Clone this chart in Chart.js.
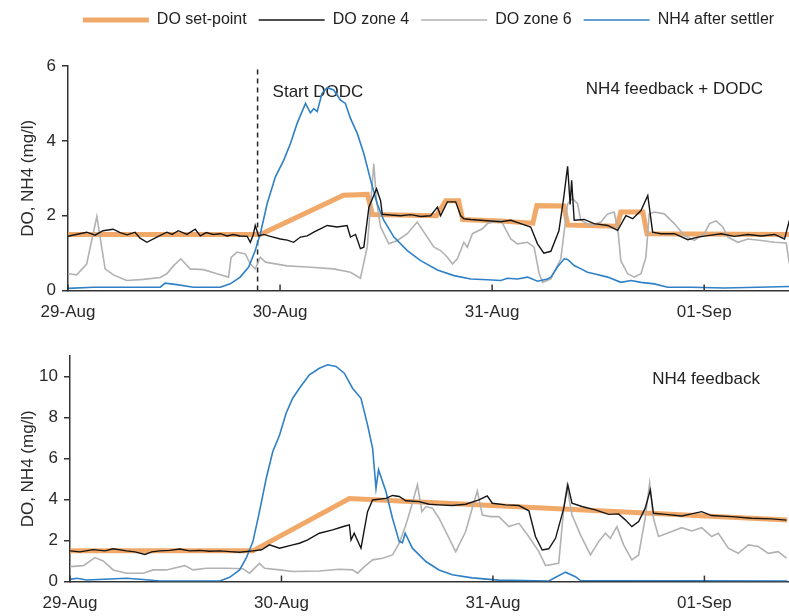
<!DOCTYPE html>
<html>
<head>
<meta charset="utf-8">
<script src="https://cdn.jsdelivr.net/npm/chart.js@4"></script>
<style>
    body { margin: 0; background: #fff; overflow: hidden; }
    #topBox { position: absolute; left: 0; top: 0; width: 789px; height: 335px; }
    #botBox { position: absolute; left: 0; top: 333px; width: 789px; height: 293px; }
</style>
</head>
<body>
<div id="topBox"><canvas id="chartTop"></canvas></div>
<div id="botBox"><canvas id="chartBot"></canvas></div>
<script>
// time in days from 29-Aug 00:00
const dayTicks = [0, 1, 2, 3];
const dayLabels = ['29-Aug', '30-Aug', '31-Aug', '01-Sep'];
const topYTicks = [0, 2, 4, 6];
const botYTicks = [0, 2, 4, 6, 8, 10];
const dodcStart = 0.894;

// --- top panel: NH4 feedback + DODC ---
const topSpT = [0, 0.907, 1.299, 1.412, 1.436, 1.738, 1.781, 1.842, 1.861, 2.041, 2.192, 2.211, 2.338, 2.357, 2.589, 2.607, 2.711, 2.730, 3.406];
const topSpV = [1.5, 1.5, 2.55, 2.57, 2.03, 2.0, 2.4, 2.4, 1.9, 1.86, 1.8, 2.27, 2.26, 1.75, 1.72, 2.1, 2.1, 1.52, 1.5];

const topZ4T = [0, 0.038, 0.088, 0.128, 0.165, 0.213, 0.246, 0.279, 0.316, 0.340, 0.372, 0.419, 0.466, 0.491, 0.520, 0.561, 0.600, 0.624, 0.652, 0.685,
    0.718, 0.750, 0.779, 0.812, 0.845, 0.860, 0.874, 0.883, 0.899, 0.923, 0.954, 1.001, 1.034, 1.064, 1.096, 1.128, 1.159, 1.190, 1.222, 1.269,
    1.316, 1.332, 1.356, 1.379, 1.395, 1.419, 1.455, 1.474, 1.482, 1.521, 1.568, 1.616, 1.663, 1.710, 1.742, 1.757, 1.789, 1.828, 1.852, 1.867,
    1.899, 1.946, 1.993, 2.041, 2.088, 2.135, 2.182, 2.214, 2.244, 2.277, 2.315, 2.338, 2.356, 2.368, 2.375, 2.387, 2.434, 2.481, 2.545, 2.592,
    2.631, 2.663, 2.702, 2.734, 2.757, 2.796, 2.859, 2.923, 2.970, 3.017, 3.080, 3.143, 3.206, 3.269, 3.332, 3.379, 3.402];
const topZ4V = [1.45, 1.5, 1.56, 1.48, 1.6, 1.64, 1.55, 1.49, 1.56, 1.4, 1.29, 1.43, 1.56, 1.5, 1.6, 1.5, 1.64, 1.46, 1.55, 1.5,
    1.52, 1.46, 1.5, 1.46, 1.45, 1.29, 1.5, 1.74, 1.46, 1.5, 1.45, 1.38, 1.35, 1.29, 1.43, 1.46, 1.56, 1.65, 1.74, 1.7,
    1.74, 1.43, 1.5, 1.12, 1.16, 2.23, 2.72, 2.4, 2.04, 2.02, 2.0, 2.03, 1.98, 2.0, 2.23, 2.0, 2.37, 2.37, 2.0, 1.92,
    1.9, 1.88, 1.86, 1.84, 1.88, 1.79, 1.7, 1.25, 1.0, 1.05, 1.6, 2.5, 3.32, 2.3, 2.95, 1.88, 1.9, 1.79, 1.74, 1.61,
    2.0, 1.92, 2.14, 2.54, 1.56, 1.52, 1.52, 1.36, 1.43, 1.47, 1.52, 1.45, 1.5, 1.46, 1.5, 1.38, 1.88];

const topZ6T = [0.001, 0.041, 0.088, 0.136, 0.159, 0.175, 0.214, 0.277, 0.356, 0.435, 0.466, 0.497, 0.532, 0.576, 0.639, 0.702, 0.757, 0.769, 0.797, 0.836,
    0.860, 0.883, 0.907, 0.931, 1.033, 1.128, 1.253, 1.332, 1.379, 1.411, 1.442, 1.455, 1.474, 1.513, 1.553, 1.600, 1.647, 1.694, 1.726, 1.757,
    1.789, 1.813, 1.836, 1.867, 1.883, 1.907, 1.954, 1.978, 2.041, 2.088, 2.119, 2.167, 2.198, 2.222, 2.238, 2.277, 2.324, 2.356, 2.379, 2.403,
    2.418, 2.466, 2.513, 2.545, 2.576, 2.595, 2.607, 2.639, 2.670, 2.702, 2.725, 2.741, 2.765, 2.812, 2.859, 2.907, 2.954, 3.001, 3.025, 3.056,
    3.088, 3.112, 3.159, 3.206, 3.269, 3.332, 3.387, 3.402];
const topZ6V = [0.45, 0.42, 0.71, 1.98, 1.16, 0.58, 0.42, 0.27, 0.30, 0.35, 0.45, 0.66, 0.85, 0.58, 0.56, 0.45, 0.36, 0.89, 1.03, 0.98,
    0.71, 0.58, 0.89, 0.76, 0.66, 0.63, 0.58, 0.49, 0.33, 1.16, 3.39, 2.4, 1.7, 1.25, 1.34, 1.52, 1.83, 1.43, 1.16, 1.07,
    0.89, 0.71, 0.85, 1.29, 1.16, 1.52, 1.65, 1.79, 1.88, 1.38, 1.25, 1.29, 1.16, 0.45, 0.22, 0.31, 0.85, 2.32, 2.46, 2.32,
    1.88, 1.74, 1.83, 2.05, 2.1, 1.52, 0.8, 0.45, 0.36, 0.45, 0.89, 2.05, 2.1, 2.05, 1.79, 1.47, 1.34, 1.52, 1.79, 1.86,
    1.7, 1.43, 1.29, 1.38, 1.34, 1.29, 1.27, 0.71];

const topNhT = [0, 0.120, 0.277, 0.435, 0.458, 0.513, 0.592, 0.718, 0.765, 0.812, 0.852, 0.883, 0.907, 0.939, 0.978, 1.017, 1.049, 1.080, 1.120, 1.143,
    1.159, 1.175, 1.198, 1.222, 1.253, 1.285, 1.308, 1.332, 1.364, 1.395, 1.427, 1.458, 1.489, 1.537, 1.600, 1.663, 1.742, 1.820, 1.899, 1.978,
    2.041, 2.072, 2.119, 2.167, 2.214, 2.261, 2.277, 2.308, 2.340, 2.356, 2.387, 2.419, 2.450, 2.481, 2.545, 2.607, 2.655, 2.702, 2.765, 2.828,
    2.938, 3.095, 3.253, 3.402];
const topNhV = [0.06, 0.09, 0.09, 0.09, 0.2, 0.16, 0.09, 0.09, 0.18, 0.36, 0.63, 1.07, 1.52, 2.32, 3.04, 3.48, 3.93, 4.46, 5.0, 4.75,
    4.86, 4.78, 5.27, 5.42, 5.36, 5.09, 5.0, 4.6, 4.2, 3.66, 2.95, 2.32, 1.88, 1.43, 1.07, 0.8, 0.55, 0.4, 0.31, 0.29,
    0.27, 0.33, 0.31, 0.36, 0.25, 0.31, 0.36, 0.63, 0.85, 0.83, 0.67, 0.58, 0.49, 0.45, 0.36, 0.22, 0.27, 0.22, 0.18, 0.09,
    0.09, 0.07, 0.09, 0.11];

// --- bottom panel: NH4 feedback ---
const botSpT = [0, 0.865, 1.321, 3.392];
const botSpV = [1.5, 1.5, 4.05, 3.0];

const botZ4T = [0, 0.047, 0.110, 0.165, 0.204, 0.267, 0.307, 0.354, 0.387, 0.425, 0.472, 0.519, 0.566, 0.613, 0.660, 0.708, 0.755, 0.802, 0.865, 0.906,
    0.943, 0.991, 1.053, 1.085, 1.124, 1.179, 1.242, 1.297, 1.321, 1.329, 1.344, 1.376, 1.407, 1.431, 1.494, 1.525, 1.557, 1.588, 1.651, 1.698,
    1.745, 1.808, 1.871, 1.934, 1.973, 1.997, 2.060, 2.123, 2.170, 2.201, 2.233, 2.264, 2.296, 2.335, 2.354, 2.374, 2.421, 2.484, 2.547, 2.594,
    2.626, 2.657, 2.689, 2.720, 2.744, 2.759, 2.815, 2.893, 2.939, 2.987, 3.034, 3.129, 3.223, 3.317, 3.388];
const botZ4V = [1.5, 1.45, 1.56, 1.5, 1.6, 1.5, 1.45, 1.32, 1.45, 1.5, 1.52, 1.59, 1.5, 1.52, 1.48, 1.5, 1.46, 1.43, 1.5, 1.55,
    1.79, 1.63, 1.79, 1.87, 2.03, 2.36, 2.52, 2.7, 2.77, 2.03, 2.36, 1.63, 3.41, 3.98, 4.06, 4.2, 4.15, 3.94, 3.9, 3.77,
    3.74, 3.71, 3.77, 3.98, 4.18, 3.82, 3.74, 3.71, 3.45, 2.2, 1.54, 1.6, 2.11, 3.58, 4.72, 3.82, 3.66, 3.5, 3.28, 3.3,
    3.01, 2.68, 2.93, 3.58, 4.47, 3.33, 3.28, 3.2, 3.3, 3.41, 3.22, 3.17, 3.09, 3.06, 3.0];

const botZ6T = [0, 0.063, 0.118, 0.157, 0.204, 0.267, 0.346, 0.393, 0.456, 0.542, 0.582, 0.645, 0.739, 0.817, 0.849, 0.896, 0.920, 0.991, 1.053, 1.179,
    1.274, 1.336, 1.360, 1.392, 1.431, 1.478, 1.525, 1.557, 1.588, 1.612, 1.643, 1.664, 1.683, 1.714, 1.745, 1.777, 1.824, 1.871, 1.902, 1.926,
    1.950, 1.989, 2.028, 2.075, 2.123, 2.170, 2.217, 2.249, 2.311, 2.335, 2.350, 2.374, 2.414, 2.461, 2.500, 2.532, 2.555, 2.586, 2.618, 2.657,
    2.689, 2.720, 2.741, 2.759, 2.783, 2.846, 2.893, 2.940, 2.987, 3.034, 3.066, 3.113, 3.160, 3.208, 3.255, 3.302, 3.349, 3.388];
const botZ6V = [0.73, 0.78, 1.17, 1.01, 0.57, 0.41, 0.41, 0.57, 0.57, 0.78, 0.57, 0.65, 0.65, 0.63, 0.41, 0.89, 0.65, 0.57, 0.49, 0.52,
    0.6, 0.57, 0.41, 0.73, 1.06, 1.14, 1.3, 1.87, 2.76, 3.58, 4.72, 3.41, 3.66, 3.58, 3.09, 2.44, 1.46, 2.44, 3.58, 4.42,
    3.25, 3.17, 3.17, 2.68, 2.84, 2.19, 1.46, 0.78, 0.89, 3.58, 4.63, 3.25, 2.28, 1.3, 1.95, 2.36, 2.11, 2.68, 1.79, 1.06,
    1.3, 3.09, 4.8, 3.09, 2.2, 2.44, 2.63, 2.47, 2.63, 2.2, 2.36, 1.63, 1.38, 1.79, 1.71, 1.38, 1.46, 1.14];

const botNhT = [0, 0.032, 0.079, 0.267, 0.346, 0.425, 0.708, 0.755, 0.802, 0.833, 0.865, 0.896, 0.928, 0.959, 0.991, 1.022, 1.053, 1.085, 1.132, 1.179,
    1.218, 1.258, 1.297, 1.336, 1.376, 1.407, 1.431, 1.447, 1.459, 1.494, 1.525, 1.557, 1.572, 1.585, 1.619, 1.683, 1.745, 1.808, 1.902, 2.028,
    2.264, 2.288, 2.343, 2.390, 2.414, 3.392];
const botNhV = [0.11, 0.16, 0.08, 0.16, 0.1, 0.03, 0.03, 0.21, 0.57, 1.14, 1.95, 3.41, 5.04, 6.34, 7.15, 8.21, 8.94, 9.43, 10.08, 10.4,
    10.57, 10.49, 10.16, 9.43, 8.94, 7.64, 6.5, 4.55, 5.45, 4.39, 3.09, 1.95, 1.9, 2.36, 1.63, 0.98, 0.57, 0.33, 0.18, 0.07,
    0.03, 0.16, 0.46, 0.24, 0.05, 0.03];

const seriesNames = ['DO set-point', 'DO zone 4', 'DO zone 6', 'NH4 after settler'];
const seriesColors = ['rgba(240,160,90,0.9)', '#151515', '#b2b2b2', '#2f80c6'];
const seriesWidths = [5, 1.4, 1.6, 1.6];
const seriesOrder = [3, 0, 2, 1];

Chart.defaults.font.family = '"Liberation Sans", Arial, sans-serif';
Chart.defaults.color = '#2a2a2a';

function pts(ts, vs) {
    return ts.map((t, i) => ({ x: t, y: vs[i] }));
}

function makeSets(list) {
    return list.map((pair, i) => ({
        label: seriesNames[i],
        data: pts(pair[0], pair[1]),
        borderColor: seriesColors[i],
        backgroundColor: seriesColors[i],
        borderWidth: seriesWidths[i],
        pointRadius: 0,
        tension: 0,
        order: seriesOrder[i]
    }));
}

// x ticks pointing into the plot
const innerTicks = {
    id: 'innerTicks',
    afterDatasetsDraw(chart) {
        const xs = chart.scales.x;
        const ctx = chart.ctx;
        const b = chart.chartArea.bottom;
        ctx.save();
        ctx.strokeStyle = '#333';
        ctx.lineWidth = 1.5;
        dayTicks.forEach(v => {
            const px = xs.getPixelForValue(v);
            ctx.beginPath();
            ctx.moveTo(px, b);
            ctx.lineTo(px, b - 6);
            ctx.stroke();
        });
        ctx.restore();
    }
};

const notes = {
    id: 'notes',
    beforeDatasetsDraw(chart, args, opts) {
        const a = chart.chartArea;
        const ctx = chart.ctx;
        ctx.save();
        ctx.font = '17px "Liberation Sans", Arial, sans-serif';
        ctx.fillStyle = '#222';
        (opts.items || []).forEach(n => {
            ctx.textAlign = n.align;
            const x = n.align === 'right' ? a.right - n.dx : chart.scales.x.getPixelForValue(n.t) + n.dx;
            ctx.fillText(n.text, x, a.top + n.dy);
        });
        ctx.restore();
    }
};

function makeOptions(yMax, yTicks, axisWidth, legendOn, noteItems, padTop) {
    return {
        responsive: true,
        maintainAspectRatio: false,
        animation: false,
        layout: { padding: { top: padTop, right: 0, left: 0, bottom: 0 } },
        plugins: {
            legend: {
                display: legendOn,
                position: 'top',
                fullSize: false,
                labels: {
                    usePointStyle: true,
                    pointStyle: 'line',
                    pointStyleWidth: 66,
                    padding: 12,
                    font: { size: 16 },
                    color: '#222',
                    filter: item => item.datasetIndex < 4,
                    sort: (a, b) => a.datasetIndex - b.datasetIndex
                }
            },
            // empty gap between legend and plot
            subtitle: {
                display: legendOn,
                text: '',
                weight: 500,
                fullSize: false,
                font: { size: 10, lineHeight: 1 },
                padding: { top: 0, bottom: 18 }
            },
            tooltip: { enabled: false },
            notes: { items: noteItems }
        },
        scales: {
            x: {
                type: 'linear',
                min: 0,
                max: 3.4,
                border: { color: '#333', width: 1.5 },
                grid: { display: false, drawTicks: false, tickLength: 0 },
                afterBuildTicks: s => { s.ticks = dayTicks.map(v => ({ value: v })); },
                ticks: {
                    padding: 12,
                    maxRotation: 0,
                    font: { size: 17 },
                    color: '#2a2a2a',
                    callback: v => dayLabels[dayTicks.indexOf(v)]
                }
            },
            y: {
                min: 0,
                max: yMax,
                border: { color: '#333', width: 1.5 },
                grid: { drawOnChartArea: false, tickLength: 6, color: '#333', lineWidth: 1.5 },
                afterBuildTicks: s => { s.ticks = yTicks.map(v => ({ value: v })); },
                afterFit: s => { s.width = axisWidth; },
                ticks: { padding: 6, font: { size: 17 }, color: '#2a2a2a' },
                title: {
                    display: true,
                    text: 'DO, NH4 (mg/l)',
                    font: { size: 17 },
                    color: '#2a2a2a',
                    padding: { top: 18, bottom: 0 }
                }
            }
        }
    };
}

const topSets = makeSets([[topSpT, topSpV], [topZ4T, topZ4V], [topZ6T, topZ6V], [topNhT, topNhV]]);
topSets.push({
    label: 'Start DODC',
    data: [{ x: dodcStart, y: 0 }, { x: dodcStart, y: 6 }],
    borderColor: '#222',
    borderWidth: 1.5,
    borderDash: [5, 4],
    pointRadius: 0,
    order: 4
});

new Chart(document.getElementById('chartTop'), {
    type: 'line',
    data: { datasets: topSets },
    options: makeOptions(6, topYTicks, 68, true, [
        { text: 'Start DODC', align: 'left', t: dodcStart, dx: 15, dy: 26 },
        { text: 'NH4 feedback + DODC', align: 'right', dx: 26, dy: 23 }
    ], 0),
    plugins: [innerTicks, notes]
});

new Chart(document.getElementById('chartBot'), {
    type: 'line',
    data: { datasets: makeSets([[botSpT, botSpV], [botZ4T, botZ4V], [botZ6T, botZ6V], [botNhT, botNhV]]) },
    options: makeOptions(11, botYTicks, 70, false, [
        { text: 'NH4 feedback', align: 'right', dx: 29, dy: 28 }
    ], 23),
    plugins: [innerTicks, notes]
});
</script>
</body>
</html>
